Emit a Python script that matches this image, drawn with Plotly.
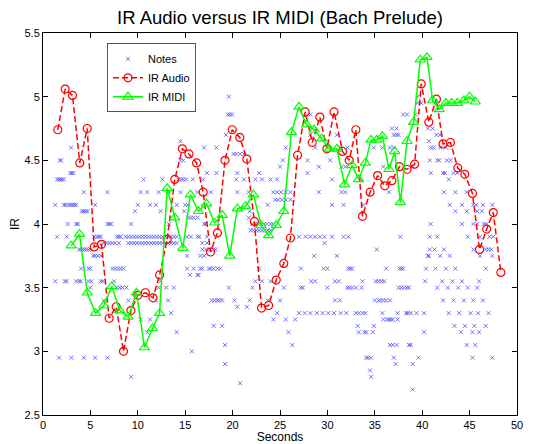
import plotly.graph_objects as go

# IR Audio (red dashed, circles)
audio_x = [1.56, 2.34, 3.11, 3.88, 4.66, 5.4, 6.17, 6.98, 7.72, 8.49, 9.27, 10.0, 10.8, 11.6, 12.3,
           13.1, 13.9, 14.7, 15.4, 16.2, 16.9, 17.67, 18.4, 19.2, 19.96, 20.76, 21.5, 22.3, 23.05,
           23.8, 24.6, 25.4, 26.1, 26.85, 27.66, 28.4, 29.2, 29.94, 30.7, 31.6, 32.3, 33.0, 33.7,
           34.5, 35.3, 36.05, 36.8, 37.6, 38.4, 39.2, 39.9, 40.7, 41.5, 42.2, 42.98, 43.75, 44.5,
           45.3, 46.05, 46.8, 47.5, 48.3]
audio_y = [4.74, 5.06, 5.01, 4.48, 4.75, 3.82, 3.84, 3.26, 3.35, 3.00, 3.32, 3.44, 3.46, 3.42, 3.60,
           3.88, 4.35, 4.59, 4.55, 4.48, 4.25, 3.78, 3.93, 4.50, 4.74, 4.68, 4.51, 4.02, 3.34,
           3.36, 3.56, 3.69, 3.89, 4.54, 4.88, 4.64, 4.84, 4.59, 4.88, 4.57, 4.50, 4.74, 4.06,
           4.25, 4.38, 4.30, 4.34, 4.45, 4.43, 4.47, 5.10, 4.80, 4.98, 4.63, 4.64, 4.44, 4.39,
           4.24, 3.80, 3.96, 4.09, 3.62]

# IR MIDI (green solid, triangles)
midi_x = [2.97, 3.85, 4.66, 5.54, 6.42, 7.26, 8.1, 8.98, 9.86, 10.7, 11.55, 12.3, 13.1, 13.9, 14.75,
          15.55, 16.4, 17.25, 18.1, 18.9, 19.7, 20.5, 21.35, 22.2, 23.0, 23.8, 24.6, 25.4, 26.2,
          27.0, 27.8, 28.6, 29.4, 30.2, 31.0, 31.8, 32.6, 33.3, 34.0, 34.6, 35.2, 35.8, 36.5,
          37.1, 37.7, 38.4, 39.1, 39.8, 40.5, 41.1, 41.8, 42.5, 43.1, 43.7, 44.4, 45.0, 45.6]
midi_y = [3.83, 3.92, 3.46, 3.30, 3.36, 3.51, 3.32, 3.27, 3.46, 3.03, 3.18, 3.30, 4.28, 4.05, 3.81,
          4.23, 4.10, 4.16, 4.01, 4.07, 3.75, 4.12, 4.14, 4.23, 3.99, 3.91, 3.99, 4.10, 4.72,
          4.92, 4.78, 4.74, 4.67, 4.59, 4.59, 4.31, 4.46, 4.35, 4.48, 4.66, 4.66, 4.69, 4.43,
          4.57, 4.17, 4.65, 4.80, 5.29, 5.31, 4.97, 4.90, 4.95, 4.95, 4.95, 4.97, 5.00, 4.96]

# Notes: one list of onset times per IR level
note_levels = [5.0, 4.95, 4.86, 4.75, 4.70, 4.65, 4.60, 4.55, 4.50, 4.45, 4.40, 4.35, 4.25, 4.19,
               4.15, 4.10, 4.05, 4.00, 3.95, 3.90, 3.85, 3.80, 3.75, 3.65, 3.60, 3.55, 3.50, 3.40,
               3.35, 3.30, 3.25, 3.20, 3.15, 3.05, 3.00, 2.95, 2.90, 2.85, 2.80, 2.75, 2.70]
note_times = [
    [19.6, 39.5],
    [39.5, 39.9],
    [19.5, 19.7, 19.95, 28.2, 38.0, 38.4, 39.3],
    [36.8, 37.3, 40.6, 41.1],
    [19.3, 28.2, 31.0, 37.0, 37.3, 37.5, 41.5, 41.9],
    [14.5, 40.7],
    [2.97, 17.0, 18.3, 25.6, 28.7, 31.4, 32.1, 34.9, 35.8, 36.6, 37.0, 40.9, 41.2, 41.9, 42.5],
    [20.1, 20.4, 20.8, 21.2],
    [1.8, 1.9, 14.5, 14.8, 25.3, 27.9, 30.3, 40.8, 41.6, 41.8, 42.6, 43.0],
    [25.0, 29.1, 31.5, 31.9, 35.9, 39.0],
    [2.9, 3.0, 3.2, 17.3, 18.3, 20.5, 22.8, 27.9, 40.9, 42.2, 42.4, 43.3, 43.7],
    [1.5, 1.7, 1.8, 2.0, 2.2, 10.6, 12.6, 14.3, 14.6, 14.8, 15.1, 15.8, 16.9, 20.4, 21.2, 22.4,
     23.1, 24.0, 24.7, 30.5, 33.5, 42.8],
    [4.3, 6.8, 10.3, 11.0, 12.2, 13.3, 14.5, 16.3, 17.7, 20.5, 21.7, 24.3, 24.7, 25.1, 25.6, 26.1,
     29.1, 31.5, 31.9, 36.5, 42.3, 43.5, 44.7],
    [24.5, 24.8, 25.2, 25.6, 26.1],
    [1.3, 2.2, 2.4, 2.7, 2.9, 3.1, 3.3, 3.5, 5.5, 10.0, 11.3, 11.9, 14.1, 15.0, 15.3, 23.7, 30.5,
     31.7, 33.8, 42.9, 44.2, 45.4, 45.7, 46.4, 47.4],
    [4.1, 4.3, 4.5, 4.7, 9.7, 12.4, 14.9, 21.8, 43.5, 44.7, 45.8, 46.3],
    [15.3, 15.6, 15.9, 16.3, 21.7],
    [2.6, 3.5, 3.7, 6.8, 7.0, 7.2, 9.3, 13.3, 17.0, 17.2, 22.1, 22.4, 22.7, 23.0, 23.3, 23.6, 24.0,
     24.3, 40.9, 44.2, 45.4, 45.8, 46.5, 46.8],
    [21.9, 22.2, 22.5, 22.8, 23.1, 23.4, 23.7, 24.0],
    [1.5, 2.5, 5.4, 5.7, 5.9, 6.1, 7.8, 8.0, 8.2, 8.7, 9.0, 9.3, 9.6, 9.9, 10.2, 10.5, 10.8, 11.1,
     11.4, 11.7, 12.0, 12.3, 12.6, 12.9, 13.2, 13.5, 13.8, 14.1, 15.2, 15.6, 16.3, 16.5, 17.3,
     27.0, 27.7, 28.2, 28.7, 29.2, 29.7, 30.5, 31.7, 32.2, 37.7, 40.8, 41.6, 44.8, 46.1, 47.1, 47.5],
    [6.4, 6.7, 7.0, 7.3, 7.6, 8.0, 9.0, 9.3, 9.6, 9.9, 10.2, 10.5, 10.8, 11.1, 11.4, 11.7, 12.0,
     12.3, 12.6, 12.9, 13.2, 13.5, 13.8, 14.1, 16.8, 17.3, 29.7],
    [3.8, 4.0, 4.2, 4.4, 4.6, 4.8, 5.0, 16.8, 17.2, 17.6, 18.0, 18.2, 35.2, 40.8, 41.3, 42.3, 45.4,
     46.7, 47.0, 47.3],
    [5.3, 5.5, 5.8, 6.1, 15.2, 16.6, 17.0, 28.6, 31.0, 40.6, 40.7, 41.9, 42.9, 46.1, 47.4],
    [4.0, 4.8, 5.0, 7.3, 7.6, 7.9, 8.2, 8.5, 15.2, 15.9, 16.6, 16.8, 17.5, 17.7, 18.0, 18.4, 18.7,
     22.8, 27.2, 29.6, 30.0, 32.2, 32.4, 32.6, 36.2, 37.6, 37.8, 38.0, 40.4, 41.4, 42.5, 43.5, 46.7],
    [15.5, 16.3, 16.4],
    [1.3, 2.3, 2.5, 3.5, 3.8, 4.0, 4.8, 5.1, 6.1, 6.3, 7.5, 12.4, 22.4, 23.1, 24.0, 28.3, 28.7,
     30.8, 31.2, 33.7, 35.1, 35.4, 35.7, 36.0, 40.3, 42.1, 43.2, 44.2, 46.0],
    [5.0, 7.8, 8.1, 8.4, 8.8, 12.2, 13.0, 13.8, 19.6, 22.1, 25.4, 27.2, 27.4, 30.0, 32.1, 32.3,
     32.6, 33.0, 33.6, 37.5, 37.8, 38.1, 38.4, 38.6, 41.6, 42.7, 43.8, 44.8, 45.8],
    [6.4, 9.0, 11.9, 13.2, 17.8, 18.1, 18.4, 18.6, 18.9, 20.2, 21.8, 23.7, 25.0, 30.8, 31.3, 35.0,
     35.4, 35.6, 35.9, 36.2, 36.6, 42.2, 43.3, 44.4, 45.4, 46.4],
    [20.5, 21.5],
    [13.5, 24.7, 27.0, 27.6, 28.2, 28.9, 29.5, 30.1, 30.7, 31.4, 32.0, 33.0, 33.3, 33.7, 34.0,
     35.8, 37.4, 38.3, 38.5, 38.8, 39.4, 40.2, 42.8, 43.9, 45.1, 45.9, 47.0],
    [10.3, 11.3, 24.3, 25.6, 26.6, 35.9, 36.3, 36.5, 36.7, 36.9, 37.4],
    [18.0, 18.9, 33.2, 34.9, 43.4, 44.5, 45.5, 46.7],
    [11.0, 14.1, 25.9, 33.3, 33.9, 34.1, 34.8, 40.2, 44.1, 45.3, 46.0],
    [19.2, 26.3, 36.6, 36.9, 37.3, 38.6, 38.8, 44.7, 45.6],
    [15.7],
    [1.7, 3.0, 4.3, 5.5, 6.8, 34.1, 34.3, 34.6, 37.0, 39.6, 45.3, 47.4],
    [19.2, 37.2, 39.0],
    [34.5],
    [9.3, 34.6],
    [20.8],
    [39.0],
]

notes_x, notes_y = [], []
for lvl, times in zip(note_levels, note_times):
    for t in times:
        notes_x.append(t)
        notes_y.append(lvl)

x_ticks = [0, 5, 10, 15, 20, 25, 30, 35, 40, 45, 50]
y_ticks = [2.5, 3, 3.5, 4, 4.5, 5, 5.5]

FONT = "Liberation Sans, Arial, sans-serif"

fig = go.Figure()
fig.add_trace(go.Scatter(
    x=notes_x, y=notes_y, mode="markers", name="Notes",
    marker=dict(symbol="x-thin", size=4, color="rgba(80,80,255,0.8)",
                line=dict(width=1, color="rgba(80,80,255,0.8)")),
))
fig.add_trace(go.Scatter(
    x=audio_x, y=audio_y, mode="lines+markers", name="IR Audio",
    line=dict(color="#FF0000", width=1.5, dash="6px,3px"),
    marker=dict(symbol="circle-open", size=8, color="#FF0000", line=dict(width=1.2)),
))
fig.add_trace(go.Scatter(
    x=midi_x, y=midi_y, mode="lines+markers", name="IR MIDI",
    line=dict(color="#00FF00", width=1.5),
    marker=dict(symbol="triangle-up-open", size=9, color="#00FF00", line=dict(width=1.2)),
))

axis_common = dict(
    showgrid=False, zeroline=False, showline=True, linecolor="black", linewidth=1,
    mirror="ticks", ticks="inside", ticklen=5, tickcolor="black", automargin=False,
    tickfont=dict(family=FONT, size=11, color="black"),
)
fig.update_xaxes(range=[0, 50], tickvals=x_ticks, ticktext=[str(v) for v in x_ticks],
                 title=dict(text="Seconds", font=dict(family=FONT, size=12, color="black"), standoff=2),
                 **axis_common)
fig.update_yaxes(range=[2.5, 5.5], tickvals=y_ticks, ticktext=[str(v) for v in y_ticks],
                 title=dict(text="IR", font=dict(family=FONT, size=12, color="black"), standoff=14),
                 **axis_common)

# page body has an 8px margin, so the figure is sized to fit the window exactly
fig.update_layout(
    width=525, height=436,
    margin=dict(l=34.5, r=16.3, t=25, b=29),
    paper_bgcolor="white", plot_bgcolor="white",
    title=dict(text="IR Audio versus IR MIDI (Bach Prelude)", xref="paper", x=0.5, xanchor="center",
               y=0.979, yanchor="middle",
               font=dict(family=FONT, size=18.5, color="black")),
    showlegend=True,
    legend=dict(x=0.135, y=0.973, xanchor="left", yanchor="top",
                bordercolor="#555555", borderwidth=1, bgcolor="white",
                font=dict(family=FONT, size=11, color="black"),
                itemwidth=30, tracegroupgap=0),
)

fig.write_html("out.html")
